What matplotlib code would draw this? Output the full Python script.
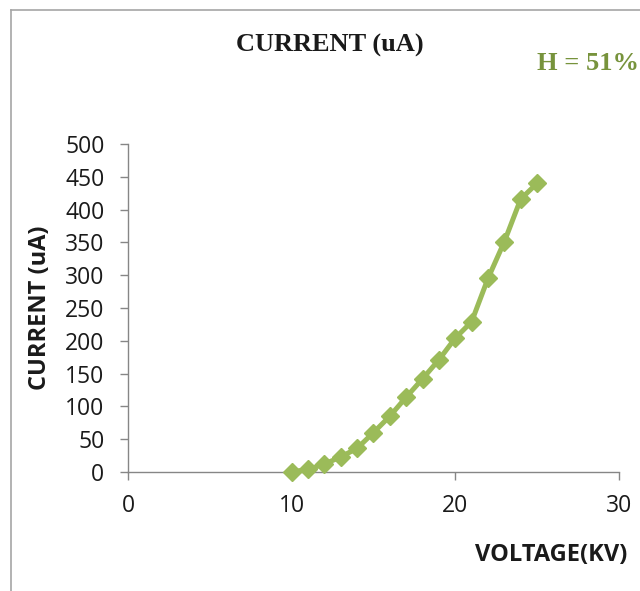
from matplotlib import pyplot as plt
from matplotlib.lines import Line2D

plt.rcParams['font.family'] = ['Open Sans', 'DejaVu Sans']

voltage = [10, 11, 12, 13, 14, 15, 16, 17, 18, 19, 20, 21, 22, 23, 24, 25]
current = [0, 4, 12, 23, 36, 60, 85, 114, 142, 171, 204, 229, 295, 351, 416, 440]
x_ticks = [0, 10, 20, 30]
y_ticks = list(range(0, 501, 50))

fig = plt.figure(figsize=(6.4, 5.91), dpi=100)
ax = fig.add_axes([0.2, 0.2014, 0.767, 0.555])

ax.plot(voltage, current, color='#9bbb59', lw=3.6, marker='D', ms=9,
        markeredgecolor='#9bbb59', markerfacecolor='#9bbb59', clip_on=False, zorder=3)

ax.set_xlim(0, 30)
ax.set_ylim(0, 500)
ax.set_xticks(x_ticks)
ax.set_yticks(y_ticks)
for s in ['top', 'right']:
    ax.spines[s].set_visible(False)
for s in ['left', 'bottom']:
    ax.spines[s].set_color('#868686')
    ax.spines[s].set_linewidth(1)
ax.tick_params(axis='both', colors='#868686', labelcolor='#1a1a1a', labelsize=16.5, length=6, width=1)
ax.tick_params(axis='x', pad=10)
ax.tick_params(axis='y', pad=11)

fig.text(330/640, 1-45/591, 'CURRENT (uA)', family='Liberation Serif', weight='bold',
         fontsize=19, ha='center', va='center', color='#1a1a1a')
fig.text(537/640, 1-64/591, 'H = 51%', family='Liberation Serif', weight='bold',
         fontsize=19, ha='left', va='center', color='#77933c')
fig.text(40/640, 1-308/591, 'CURRENT (uA)', weight='bold', fontsize=17,
         rotation=90, ha='center', va='center', color='#1a1a1a')
fig.text(627/640, 1-555/591, 'VOLTAGE(KV)', weight='bold', fontsize=17,
         ha='right', va='center', color='#1a1a1a')

# chart border, only left and top edges visible
fig.add_artist(Line2D([10.5/640, 10.5/640], [0, 1-9.5/591], transform=fig.transFigure, color='#a6a6a6', lw=1.2))
fig.add_artist(Line2D([10.5/640, 1], [1-9.5/591, 1-9.5/591], transform=fig.transFigure, color='#a6a6a6', lw=1.2))

fig.savefig('out.png', dpi=100)
